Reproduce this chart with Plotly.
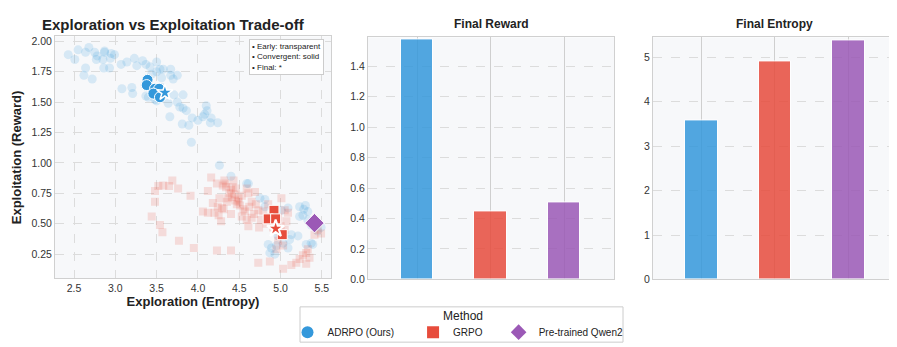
import plotly.graph_objects as go

# ---- colours ----
BLUE = "#3498db"
RED = "#e74c3c"
PURPLE = "#9b59b6"

methods = ["ADRPO (Ours)", "GRPO", "Pre-trained Qwen2"]
colors = [BLUE, RED, PURPLE]

# ---- final values (bars) ----
final_reward = [1.58, 0.447, 0.505]
final_entropy = [3.57, 4.92, 5.39]

# ---- trajectory: ADRPO early (transparent) ----
adrpo_early_x = [2.43, 2.55, 2.51, 2.68, 2.64, 2.75, 2.78, 2.87, 2.95, 2.99, 2.77, 2.85, 2.94,
                 2.64, 2.62, 2.72, 2.86, 2.93, 3.07, 3.14, 3.23, 3.33, 3.26, 3.37, 3.42, 3.50,
                 3.54, 3.58, 3.67, 3.56, 3.67, 3.75, 3.70, 3.08, 3.20, 3.21, 3.40, 3.48, 3.64,
                 3.75, 3.78, 3.82, 3.71, 3.82, 3.66, 3.81, 3.89, 3.93, 4.00, 4.06, 4.10, 4.11,
                 4.08, 4.16, 4.15, 4.24, 3.86, 3.92, 4.26, 4.40, 4.59, 3.36, 3.37, 3.50, 3.44,
                 3.50, 3.47, 3.56, 2.87,
                 4.61, 4.75, 4.81, 4.81, 5.09, 5.23, 5.30, 5.33, 5.27, 5.23, 5.33, 5.37, 5.13,
                 5.21, 5.11, 5.31, 5.37, 4.85, 4.89, 4.95, 4.87, 4.93, 5.03, 5.09, 4.97, 5.45,
                 5.49, 5.01, 5.39, 5.28]
adrpo_early_y = [1.89, 1.93, 1.85, 1.95, 1.91, 1.91, 1.88, 1.91, 1.90, 1.89, 1.85, 1.85, 1.86,
                 1.78, 1.72, 1.69, 1.78, 1.78, 1.81, 1.83, 1.86, 1.84, 1.80, 1.81, 1.79, 1.83,
                 1.77, 1.77, 1.77, 1.70, 1.72, 1.72, 1.69, 1.61, 1.62, 1.57, 1.54, 1.52, 1.49,
                 1.50, 1.46, 1.45, 1.56, 1.56, 1.38, 1.32, 1.31, 1.37, 1.35, 1.38, 1.47, 1.43,
                 1.40, 1.37, 1.33, 1.33, 1.43, 1.17, 0.98, 0.89, 0.83, 1.64, 1.55, 1.51, 1.73,
                 1.75, 1.58, 1.62, 1.92,
                 0.83, 0.71, 0.70, 0.64, 0.63, 0.64, 0.65, 0.60, 0.57, 0.56, 0.53, 0.49, 0.41,
                 0.40, 0.37, 0.33, 0.34, 0.33, 0.30, 0.32, 0.26, 0.25, 0.34, 0.30, 0.40, 0.44,
                 0.47, 0.61, 0.33, 0.62]

# ---- ADRPO convergent (solid) + final ----
adrpo_conv_x = [3.39, 3.38, 3.48, 3.53, 3.50, 3.46, 3.54]
adrpo_conv_y = [1.683, 1.64, 1.61, 1.61, 1.56, 1.57, 1.54]
adrpo_final = (3.60, 1.578)

# ---- GRPO early (transparent) ----
grpo_early_x = [3.48, 3.52, 3.58, 3.65, 3.69, 3.76, 3.48, 3.44, 3.54, 3.57, 3.77, 3.91, 3.95,
                4.12, 4.16, 4.23, 4.32, 4.30, 4.34, 4.40, 4.46, 4.26, 4.36, 4.41, 4.45, 4.49,
                4.18, 4.24, 4.06, 4.12, 4.20, 4.25, 4.29, 4.40, 4.28, 4.23, 4.40, 4.51, 4.57,
                4.53, 4.59, 4.65, 4.61, 4.69, 4.65, 4.73, 4.74, 4.61, 4.73, 4.43, 4.49, 4.42,
                4.53, 4.59, 4.79, 5.01, 5.09, 5.07, 4.97, 5.03, 4.95, 4.87, 5.03, 5.19, 5.13,
                5.23, 5.31, 5.33, 5.31, 5.41, 5.45, 4.91, 4.99, 5.49, 4.33, 4.38, 4.44, 4.47,
                4.55, 4.35, 4.31, 4.62, 4.68, 4.70, 4.85, 4.76, 4.83, 5.05, 5.00, 4.97, 5.05,
                5.35, 5.27]
grpo_early_y = [0.77, 0.81, 0.815, 0.81, 0.855, 0.79, 0.68, 0.56, 0.49, 0.43, 0.36, 0.73, 0.30,
                0.77, 0.88, 0.83, 0.855, 0.815, 0.80, 0.78, 0.79, 0.71, 0.71, 0.72, 0.69, 0.68,
                0.67, 0.64, 0.60, 0.59, 0.59, 0.57, 0.63, 0.58, 0.52, 0.28, 0.28, 0.65, 0.60,
                0.56, 0.53, 0.55, 0.75, 0.76, 0.68, 0.61, 0.47, 0.48, 0.18, 0.855, 0.71, 0.80,
                0.73, 0.79, 0.60, 0.71, 0.59, 0.52, 0.36, 0.32, 0.29, 0.19, 0.13, 0.18, 0.16,
                0.21, 0.26, 0.29, 0.17, 0.41, 0.45, 0.47, 0.40, 0.42, 0.83, 0.75, 0.74, 0.66,
                0.62, 0.68, 0.62, 0.64, 0.58, 0.66, 0.66, 0.53, 0.50, 0.45, 0.48, 0.55, 0.61,
                0.22, 0.24]

grpo_conv_x = [4.92, 4.85, 4.94, 5.02]
grpo_conv_y = [0.61, 0.54, 0.54, 0.41]
grpo_final = (4.94, 0.46)

qwen_point = (5.41, 0.505)

FONT = "Liberation Sans, Arial, sans-serif"
W, H = 897, 347


def dom_x(a, b):
    return [a / W, b / W]


def dom_y(top, bottom):
    return [1 - bottom / H, 1 - top / H]


fig = go.Figure()

# ---- scatter panel ----
fig.add_trace(go.Scatter(x=adrpo_early_x, y=adrpo_early_y, mode="markers",
                         marker=dict(color=BLUE, size=9, opacity=0.17, line=dict(width=0)),
                         showlegend=False, xaxis="x", yaxis="y"))
fig.add_trace(go.Scatter(x=grpo_early_x, y=grpo_early_y, mode="markers",
                         marker=dict(color=RED, size=8, symbol="square", opacity=0.17, line=dict(width=0)),
                         showlegend=False, xaxis="x", yaxis="y"))
fig.add_trace(go.Scatter(x=adrpo_conv_x, y=adrpo_conv_y, mode="markers",
                         marker=dict(color=BLUE, size=11, line=dict(color="white", width=1)),
                         showlegend=False, xaxis="x", yaxis="y"))
fig.add_trace(go.Scatter(x=grpo_conv_x, y=grpo_conv_y, mode="markers",
                         marker=dict(color=RED, size=10, symbol="square", line=dict(color="white", width=1)),
                         showlegend=False, xaxis="x", yaxis="y"))
fig.add_trace(go.Scatter(x=[adrpo_final[0]], y=[adrpo_final[1]], mode="markers",
                         marker=dict(color=BLUE, size=12, symbol="star", line=dict(color="white", width=1.5)),
                         showlegend=False, xaxis="x", yaxis="y"))
fig.add_trace(go.Scatter(x=[grpo_final[0]], y=[grpo_final[1]], mode="markers",
                         marker=dict(color=RED, size=13, symbol="star", line=dict(color="white", width=2)),
                         showlegend=False, xaxis="x", yaxis="y"))
fig.add_trace(go.Scatter(x=[qwen_point[0]], y=[qwen_point[1]], mode="markers",
                         marker=dict(color=PURPLE, size=15, symbol="diamond", line=dict(color="white", width=1)),
                         showlegend=False, xaxis="x", yaxis="y"))

# ---- legend entries (padding with nbsp to mimic wider spacing) ----
pads = ["\u00a0" * 5, "\u00a0" * 4, ""]
for name, col, sym, pad in zip(methods, colors, ["circle", "square", "diamond"], pads):
    fig.add_trace(go.Scatter(x=[None], y=[None], mode="markers", name=name + pad,
                             marker=dict(color=col, size=9, symbol=sym), xaxis="x", yaxis="y"))

# ---- bars ----
bar_x = [0, 1, 2]
fig.add_trace(go.Bar(x=bar_x, y=final_reward, width=0.44, marker=dict(color=colors, opacity=0.85,
                     line=dict(color="white", width=1)), showlegend=False, xaxis="x2", yaxis="y2"))
fig.add_trace(go.Bar(x=bar_x, y=final_entropy, width=0.445, marker=dict(color=colors, opacity=0.85,
                     line=dict(color="white", width=1)), showlegend=False, xaxis="x3", yaxis="y3"))

axis_common = dict(showline=True, linecolor="#d0d0d0", linewidth=1, mirror=True,
                   ticks="", tickfont=dict(size=10.5, color="#333"), zeroline=False)

fig.update_layout(
    width=W, height=H,
    margin=dict(l=0, r=0, t=0, b=0),
    paper_bgcolor="white", plot_bgcolor="#f7f8fa",
    font=dict(family=FONT, color="#222"),
    bargap=0,
    xaxis=dict(domain=dom_x(47, 323), range=[2.27, 5.61], dtick=0.5, tick0=2.5, tickformat=".1f",
               showgrid=True, gridcolor="#dcdcdc", griddash="dash", gridwidth=1,
               title=dict(text="<b>Exploration (Entropy)</b>", font=dict(size=13), standoff=2),
               anchor="y", **axis_common),
    yaxis=dict(domain=dom_y(28, 275), range=[0.05, 2.04], dtick=0.25, tick0=0.25,
               tickformat=".2f", showgrid=True, gridcolor="#dcdcdc", griddash="dash",
               title=dict(text="<b>Exploitation (Reward)</b>", font=dict(size=13), standoff=6),
               anchor="x", **axis_common),
    xaxis2=dict(domain=dom_x(360, 606), range=[-0.67, 2.68], tickvals=bar_x, showticklabels=False,
                showgrid=True, gridcolor="#cfcfcf", anchor="y2", **axis_common),
    yaxis2=dict(domain=dom_y(29, 276), range=[0, 1.59], dtick=0.2, tickformat=".1f",
                showgrid=True, gridcolor="#dcdcdc", griddash="dash", anchor="x2", **axis_common),
    xaxis3=dict(domain=dom_x(645, 888), range=[-0.66, 2.65], tickvals=bar_x, showticklabels=False,
                showgrid=True, gridcolor="#cfcfcf", anchor="y3", **axis_common),
    yaxis3=dict(domain=dom_y(29, 276), range=[0, 5.45], dtick=1,
                showgrid=True, gridcolor="#dcdcdc", griddash="dash", anchor="x3", **axis_common),
    legend=dict(orientation="h", x=450 / W, xanchor="center", y=1 - 315 / H, yanchor="top",
                font=dict(size=10), bgcolor="rgba(0,0,0,0)", borderwidth=0,
                itemsizing="constant", itemwidth=30),
    shapes=[
        dict(type="rect", xref="paper", yref="paper", x0=292 / W, x1=615 / W,
             y0=1 - 340 / H, y1=1 - 304 / H, line=dict(color="#cccccc", width=1),
             fillcolor="white", layer="below"),
    ],
    annotations=[
        dict(text="<b>Exploration vs Exploitation Trade-off</b>", x=165 / W, y=1 - 16 / H,
             xref="paper", yref="paper", showarrow=False, font=dict(size=15, color="#222"),
             xanchor="center", yanchor="middle"),
        dict(text="<b>Final Reward</b>", x=483 / W, y=1 - 15 / H, xref="paper", yref="paper",
             showarrow=False, font=dict(size=12, color="#222"), xanchor="center", yanchor="middle"),
        dict(text="<b>Final Entropy</b>", x=766 / W, y=1 - 15 / H, xref="paper", yref="paper",
             showarrow=False, font=dict(size=12, color="#222"), xanchor="center", yanchor="middle"),
        dict(text="Method", x=455 / W, y=1 - 313 / H, xref="paper", yref="paper",
             showarrow=False, font=dict(size=12, color="#222"), xanchor="center", yanchor="middle"),
        dict(text="• Early: transparent<br>• Convergent: solid<br>• Final: *",
             x=316 / W, y=1 - 31 / H, xref="paper", yref="paper", showarrow=False, align="left",
             xanchor="right", yanchor="top", font=dict(size=8, color="#222"),
             bgcolor="white", bordercolor="#cccccc", borderwidth=1, borderpad=2),
    ],
)

fig.write_html("out.html")
